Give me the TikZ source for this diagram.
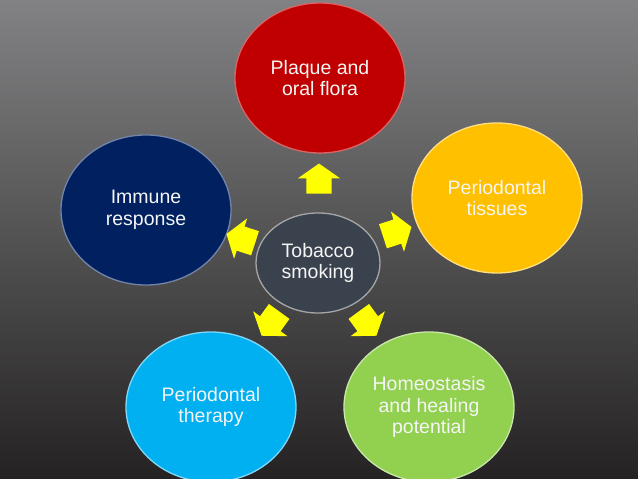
\documentclass[tikz,border=0pt]{standalone}
\usepackage{fontspec}
\setmainfont{Liberation Sans}
\usetikzlibrary{shapes.geometric}
\usetikzlibrary{shapes.arrows}
\definecolor{bgtop}{RGB}{130,130,132}
\definecolor{bgbot}{RGB}{36,34,34}
\definecolor{plaquered}{RGB}{192,0,0}
\definecolor{tissueorange}{RGB}{255,192,0}
\definecolor{immunenavy}{RGB}{0,32,96}
\definecolor{therapycyan}{RGB}{0,176,240}
\definecolor{healgreen}{RGB}{146,208,80}
\definecolor{hubgray}{RGB}{58,66,78}
\definecolor{blkyellow}{RGB}{255,255,0}
\definecolor{txt}{RGB}{245,245,245}
\tikzset{bubble/.style={ellipse, minimum width=170pt, minimum height=150pt,
   inner sep=0pt, line width=1.3pt, text=txt, align=center,
   font=\fontsize{19.5}{21.5}\selectfont}}
\tikzset{hub/.style={bubble, minimum width=124pt, minimum height=100pt,
   fill=hubgray, draw=gray!70}}
\tikzset{blk/.style={single arrow, fill=blkyellow, minimum height=30pt,
   inner xsep=0pt, inner ysep=12.5pt, single arrow head extend=8.5pt,
   single arrow tip angle=110}}

\begin{document}
\begin{tikzpicture}[x=1pt, y=1pt]

    \useasboundingbox (0,0) rectangle (638,479);
    \clip (0,0) rectangle (638,479);
    \shade[top color=bgtop, bottom color=bgbot] (0,0) rectangle (638,479);

    \node[hub] (smoking) at (318,216) {Tobacco\\smoking};

    \node[bubble, fill=plaquered, draw=plaquered!60!white]     (plaque)  at (320,401) {Plaque and\\oral flora};
    \node[bubble, fill=tissueorange, draw=tissueorange!50!white] (tissues) at (497,281) {Periodontal\\tissues};
    \node[bubble, fill=immunenavy, draw=immunenavy!55!white]   (immune)  at (146,269) {Immune\\response};
    \node[bubble, fill=therapycyan, draw=therapycyan!50!white] (therapy) at (211,72)  {Periodontal\\therapy};
    \node[bubble, fill=healgreen, draw=healgreen!50!white]     (healing) at (429,72)  {Homeostasis\\and healing\\potential};

    \node[blk, rotate=90]   (toplaque)  at (319,296) {};
    \node[blk, rotate=18]   (totissues) at (393,246) {};
    \node[blk, rotate=162]  (toimmune)  at (245,239) {};
    \node[blk, rotate=-126] (totherapy) at (273,159) {};
    \node[blk, rotate=-54]  (tohealing) at (365,159) {};

  \end{tikzpicture}
\end{document}
